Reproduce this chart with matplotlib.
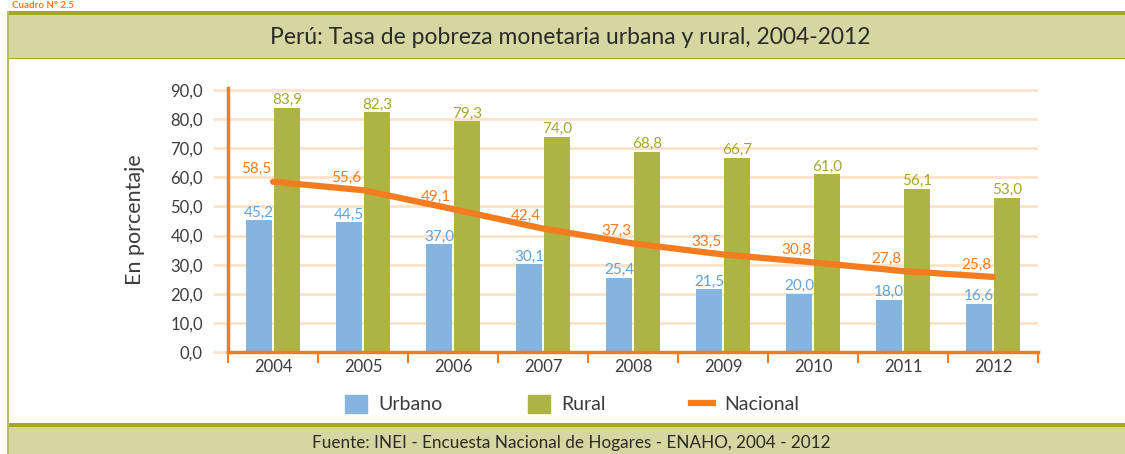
import matplotlib.pyplot as plt
from matplotlib.patches import Rectangle, Patch
from matplotlib.lines import Line2D
import numpy as np

# datos
anios = ['2004', '2005', '2006', '2007', '2008', '2009', '2010', '2011', '2012']
urbano = [45.2, 44.5, 37.0, 30.1, 25.4, 21.5, 20.0, 18.0, 16.6]
rural = [83.9, 82.3, 79.3, 74.0, 68.8, 66.7, 61.0, 56.1, 53.0]
nacional = [58.5, 55.6, 49.1, 42.4, 37.3, 33.5, 30.8, 27.8, 25.8]
y_ticks = [0, 10, 20, 30, 40, 50, 60, 70, 80, 90]

c_urb = '#85b4df'
c_rur = '#aeb443'
c_nac = '#f47c20'
c_urb_txt = '#5fa2dc'
c_rur_txt = '#a2a92c'
c_grid = '#fde2cb'
c_txt = '#3c3c3c'
c_banda = '#d5d6a0'
c_oliva = '#a4a91a'

plt.rcParams['font.family'] = ['Lato', 'DejaVu Sans']

W, H = 1125, 454
fig = plt.figure(figsize=(W / 100, H / 100), dpi=100)

def fy(px):
    return (H - px) / H

# marco: banda del titulo, banda de la fuente, borde izquierdo
fig.patches.append(Rectangle((8 / W, fy(58)), 1, (58 - 15) / H, transform=fig.transFigure,
                             facecolor=c_banda, edgecolor='none', zorder=0))
fig.patches.append(Rectangle((8 / W, fy(15)), 1, 4 / H, transform=fig.transFigure,
                             facecolor=c_oliva, edgecolor='none', zorder=1))
fig.patches.append(Rectangle((8 / W, fy(59)), 1, 1.2 / H, transform=fig.transFigure,
                             facecolor=c_oliva, edgecolor='none', zorder=1))
fig.patches.append(Rectangle((8 / W, 0), 1, fy(427), transform=fig.transFigure,
                             facecolor=c_banda, edgecolor='none', zorder=0))
fig.patches.append(Rectangle((8 / W, fy(427)), 1, 4 / H, transform=fig.transFigure,
                             facecolor=c_oliva, edgecolor='none', zorder=1))
fig.patches.append(Rectangle((7 / W, 0), 2.2 / W, fy(11), transform=fig.transFigure,
                             facecolor='#b9bd5a', edgecolor='none', zorder=2))

fig.text(12 / W, fy(1), 'Cuadro N° 2.5', color=c_nac, fontsize=7, fontweight='bold',
         va='top', ha='left')
fig.text(570 / W, fy(37), 'Perú: Tasa de pobreza monetaria urbana y rural, 2004-2012',
         ha='center', va='center', fontsize=16.5, color='#2b2b2b')
fig.text(571 / W, fy(443), 'Fuente: INEI - Encuesta Nacional de Hogares - ENAHO, 2004 - 2012',
         ha='center', va='center', fontsize=12.3, color='#2b2b2b')

# grafico
ax = fig.add_axes([228 / W, fy(352), (1038 - 228) / W, (352 - 88) / H])
x = np.arange(len(anios))
ancho = 0.29
ax.bar(x - 0.155, urbano, ancho, color=c_urb, zorder=3)
ax.bar(x + 0.155, rural, ancho, color=c_rur, zorder=3)
ax.plot(x, nacional, color=c_nac, lw=4.5, solid_capstyle='round', zorder=4)

for i in range(len(anios)):
    ax.annotate(f'{urbano[i]:.1f}'.replace('.', ','), (x[i] - 0.155, urbano[i]),
                xytext=(0, 0.5), textcoords='offset points', ha='center', va='bottom',
                fontsize=11, color=c_urb_txt, zorder=5)
    ax.annotate(f'{rural[i]:.1f}'.replace('.', ','), (x[i] + 0.155, rural[i]),
                xytext=(0, 0.5), textcoords='offset points', ha='center', va='bottom',
                fontsize=11, color=c_rur_txt, zorder=5)
    ax.annotate(f'{nacional[i]:.1f}'.replace('.', ','), (x[i], nacional[i]),
                xytext=(-12, 9), textcoords='offset points', ha='center', va='center',
                fontsize=11, color=c_nac, zorder=5)

ax.set_xlim(-0.5, len(anios) - 0.5)
ax.set_ylim(0, 90.7)
ax.set_yticks(y_ticks)
ax.set_yticklabels([f'{v:.1f}'.replace('.', ',') for v in y_ticks], fontsize=12, color=c_txt)
ax.yaxis.grid(True, color=c_grid, lw=2, zorder=0)
ax.tick_params(axis='y', length=11, width=2, color=c_grid, pad=7)

ax.set_xticks(np.arange(len(anios) + 1) - 0.5)
ax.set_xticklabels([])
ax.set_xticks(x, minor=True)
ax.set_xticklabels(anios, minor=True, fontsize=12, color=c_txt)
ax.tick_params(axis='x', which='major', length=8, width=1.5, color=c_nac)
ax.tick_params(axis='x', which='minor', length=0, pad=5)

for s in ['top', 'right']:
    ax.spines[s].set_visible(False)
for s in ['left', 'bottom']:
    ax.spines[s].set_color(c_nac)
    ax.spines[s].set_linewidth(2.5)
    ax.spines[s].set_zorder(6)

ax.set_ylabel('En porcentaje', fontsize=15.5, color=c_txt, labelpad=18)

handles = [Patch(color=c_urb), Patch(color=c_rur), Line2D([], [], color=c_nac, lw=4.5)]
fig.legend(handles, ['Urbano', 'Rural', 'Nacional'], loc='center', ncol=3,
           bbox_to_anchor=(572 / W, fy(404)), frameon=False, fontsize=14,
           handlelength=1.15, handleheight=1.1, handletextpad=0.55, columnspacing=4.4,
           labelcolor=c_txt)

fig.savefig('out.png', dpi=100)
